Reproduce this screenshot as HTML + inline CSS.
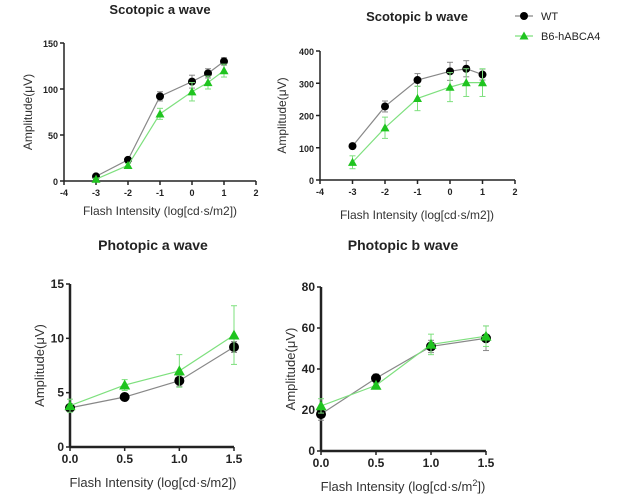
<!DOCTYPE html>
<html><head><meta charset="utf-8"><style>
html,body{margin:0;padding:0;background:#fff;}
svg{display:block;font-family:"Liberation Sans",Arial,sans-serif;}
</style></head><body>
<svg id="c" width="642" height="500" viewBox="0 0 642 500"></svg>
<script>
// Scotopic a wave
const scotX = [-3, -2, -1, 0, 0.5, 1];
const scotA_WT = [5, 23, 92, 108, 117, 130];
const scotA_WT_err = [2, 2, 5, 7, 5, 4];
const scotA_B6 = [2, 17, 73, 97, 107, 120];
const scotA_B6_err = [1, 2, 6, 10, 7, 7];
const scotA_yTicks = [0, 50, 100, 150];
// Scotopic b wave
const scotB_WT = [105, 228, 310, 337, 345, 327];
const scotB_WT_err = [5, 17, 20, 28, 25, 17];
const scotB_B6 = [55, 162, 253, 288, 302, 302];
const scotB_B6_err = [20, 33, 38, 45, 43, 43];
const scotB_yTicks = [0, 100, 200, 300, 400];
const scotXTicks = [-4, -3, -2, -1, 0, 1, 2];
// Photopic a wave
const photX = [0, 0.5, 1.0, 1.5];
const photXTickLabels = ["0.0", "0.5", "1.0", "1.5"];
const photA_WT = [3.6, 4.6, 6.1, 9.2];
const photA_WT_err = [0.3, 0.15, 0.5, 0.5];
const photA_B6 = [3.8, 5.7, 7.0, 10.3];
const photA_B6_err = [0.6, 0.5, 1.5, 2.7];
const photA_yTicks = [0, 5, 10, 15];
// Photopic b wave
const photB_WT = [18, 35.5, 51, 55];
const photB_WT_err = [3, 2, 3, 6];
const photB_B6 = [22, 32, 52, 56];
const photB_B6_err = [3.5, 1, 5, 5];
const photB_yTicks = [0, 20, 40, 60, 80];

const NS = "http://www.w3.org/2000/svg";
const svg = document.getElementById('c');
function el(tag, attrs, parent, text) {
  const e = document.createElementNS(NS, tag);
  for (const k in attrs) e.setAttribute(k, attrs[k]);
  if (text !== undefined) e.textContent = text;
  (parent || svg).appendChild(e);
  return e;
}
const GREEN = '#1fc41f', LGREEN = '#7ee07e', BLACK = '#000', GREY = '#888';

function panel(o) {
  const g = el('g', {});
  
  
  const sx = v => o.x0 + (v - o.xmin) / (o.xmax - o.xmin) * (o.x1 - o.x0);
  const sy = v => o.y0 - (v - o.ymin) / (o.ymax - o.ymin) * (o.y0 - o.y1);
  const bold = o.big ? 12 : 9;
  const mr = o.big ? 5 : 4;
  const t = el('text', {x: o.tx, y: o.ty, 'text-anchor': 'middle', 'font-size': o.big ? 14 : 13, 'font-weight': 'bold', fill: '#222'}, g, o.title);
  
  
  const ya = el('line', {x1: o.x0, y1: o.y1, x2: o.x0, y2: o.y0, stroke: '#222', 'stroke-width': o.big ? 2.5 : 1.5}, g);
  
  
  const xa = el('line', {x1: o.x0, y1: o.y0, x2: o.x1, y2: o.y0, stroke: '#222', 'stroke-width': o.big ? 2.5 : 1.5}, g);
  
  
  o.yTicks.forEach(v => {
    el('line', {x1: o.x0 - 4, y1: sy(v), x2: o.x0, y2: sy(v), stroke: '#222', 'stroke-width': 1.5}, g);
    const l = el('text', {x: o.x0 - 6, y: sy(v) + 4, 'text-anchor': 'end', 'font-size': bold, 'font-weight': 'bold', fill: '#222'}, g, v);
    
    
  });
  o.xTicks.forEach((v, i) => {
    el('line', {x1: sx(v), y1: o.y0, x2: sx(v), y2: o.y0 + 4, stroke: '#222', 'stroke-width': 1.5}, g);
    const l = el('text', {x: sx(v), y: o.y0 + (o.big ? 16 : 15), 'text-anchor': 'middle', 'font-size': bold, 'font-weight': 'bold', fill: '#222'}, g, o.xLabels ? o.xLabels[i] : v);
    
    
  });
  const xl = el('text', {x: o.xlx, y: o.xly, 'text-anchor': 'middle', 'font-size': o.big ? 13 : 12, fill: '#333'}, g);
  
  
  if (o.sup) {
    xl.appendChild(document.createTextNode('Flash Intensity (log[cd·s/m'));
    el('tspan', {dy: -5, 'font-size': 9}, xl, '2');
    el('tspan', {dy: 5}, xl, '])');
  } else xl.textContent = 'Flash Intensity (log[cd·s/m2])';
  const yl = el('text', {transform: `translate(${o.ylx},${(o.y0 + o.y1) / 2}) rotate(-90)`, 'text-anchor': 'middle', 'font-size': o.big ? 13 : 12, fill: '#333'}, g, 'Amplitude(μV)');
  
  

  function series(xs, ys, es, color, lcolor, marker, name) {
    const sg = el('g', {}, g);
    
    
    el('polyline', {points: xs.map((x, i) => sx(x) + ',' + sy(ys[i])).join(' '), fill: 'none', stroke: lcolor, 'stroke-width': 1.2}, sg);
    xs.forEach((x, i) => {
      const cx = sx(x), top = sy(ys[i] + es[i]), bot = sy(ys[i] - es[i]);
      el('line', {x1: cx, y1: top, x2: cx, y2: bot, stroke: lcolor, 'stroke-width': 1}, sg);
      el('line', {x1: cx - 3, y1: top, x2: cx + 3, y2: top, stroke: lcolor, 'stroke-width': 1}, sg);
      el('line', {x1: cx - 3, y1: bot, x2: cx + 3, y2: bot, stroke: lcolor, 'stroke-width': 1}, sg);
      const cy = sy(ys[i]);
      let m;
      const tr = mr + 0.5;
      if (marker === 'circle') m = el('circle', {cx: cx, cy: cy, r: mr, fill: color}, sg);
      else m = el('polygon', {points: `${cx},${cy - tr} ${cx - tr},${cy + tr * 0.8} ${cx + tr},${cy + tr * 0.8}`, fill: color}, sg);
      
      
    });
  }
  series(o.xs, o.wt, o.wtE, BLACK, GREY, 'circle', 'series-wt');
  series(o.xs, o.b6, o.b6E, GREEN, LGREEN, 'triangle', 'series-b6-habca4');
}

panel({name: 'scotopic-a-chart', title: 'Scotopic a wave', tx: 160, ty: 14, x0: 64, x1: 256, y0: 181, y1: 43,
  xmin: -4, xmax: 2, ymin: 0, ymax: 150, xTicks: scotXTicks, yTicks: scotA_yTicks, xs: scotX,
  wt: scotA_WT, wtE: scotA_WT_err, b6: scotA_B6, b6E: scotA_B6_err, xlx: 160, xly: 215, ylx: 32});
panel({name: 'scotopic-b-chart', title: 'Scotopic b wave', tx: 417, ty: 21, x0: 320, x1: 515, y0: 180, y1: 51,
  xmin: -4, xmax: 2, ymin: 0, ymax: 400, xTicks: scotXTicks, yTicks: scotB_yTicks, xs: scotX,
  wt: scotB_WT, wtE: scotB_WT_err, b6: scotB_B6, b6E: scotB_B6_err, xlx: 417, xly: 219, ylx: 286});
panel({name: 'photopic-a-chart', title: 'Photopic a wave', tx: 153, ty: 250, x0: 70, x1: 234, y0: 447, y1: 284,
  xmin: 0, xmax: 1.5, ymin: 0, ymax: 15, xTicks: photX, xLabels: photXTickLabels, yTicks: photA_yTicks, xs: photX,
  wt: photA_WT, wtE: photA_WT_err, b6: photA_B6, b6E: photA_B6_err, xlx: 153, xly: 487, ylx: 44, big: true});
panel({name: 'photopic-b-chart', title: 'Photopic b wave', tx: 403, ty: 250, x0: 321, x1: 486, y0: 451, y1: 287,
  xmin: 0, xmax: 1.5, ymin: 0, ymax: 80, xTicks: photX, xLabels: photXTickLabels, yTicks: photB_yTicks, xs: photX,
  wt: photB_WT, wtE: photB_WT_err, b6: photB_B6, b6E: photB_B6_err, xlx: 403, xly: 491, ylx: 295, big: true, sup: true});

const lg = el('g', {});


const l1 = el('g', {}, lg);


el('line', {x1: 515, y1: 16, x2: 533, y2: 16, stroke: GREY, 'stroke-width': 1.2}, l1);
el('circle', {cx: 524, cy: 16, r: 4, fill: BLACK}, l1);
el('text', {x: 541, y: 20, 'font-size': 11, fill: '#222'}, l1, 'WT');
const l2 = el('g', {}, lg);


el('line', {x1: 515, y1: 36, x2: 533, y2: 36, stroke: LGREEN, 'stroke-width': 1.2}, l2);
el('polygon', {points: '524,31.5 519.5,39.5 528.5,39.5', fill: GREEN}, l2);
el('text', {x: 541, y: 40, 'font-size': 11, fill: '#222'}, l2, 'B6-hABCA4');
</script>
</body></html>
